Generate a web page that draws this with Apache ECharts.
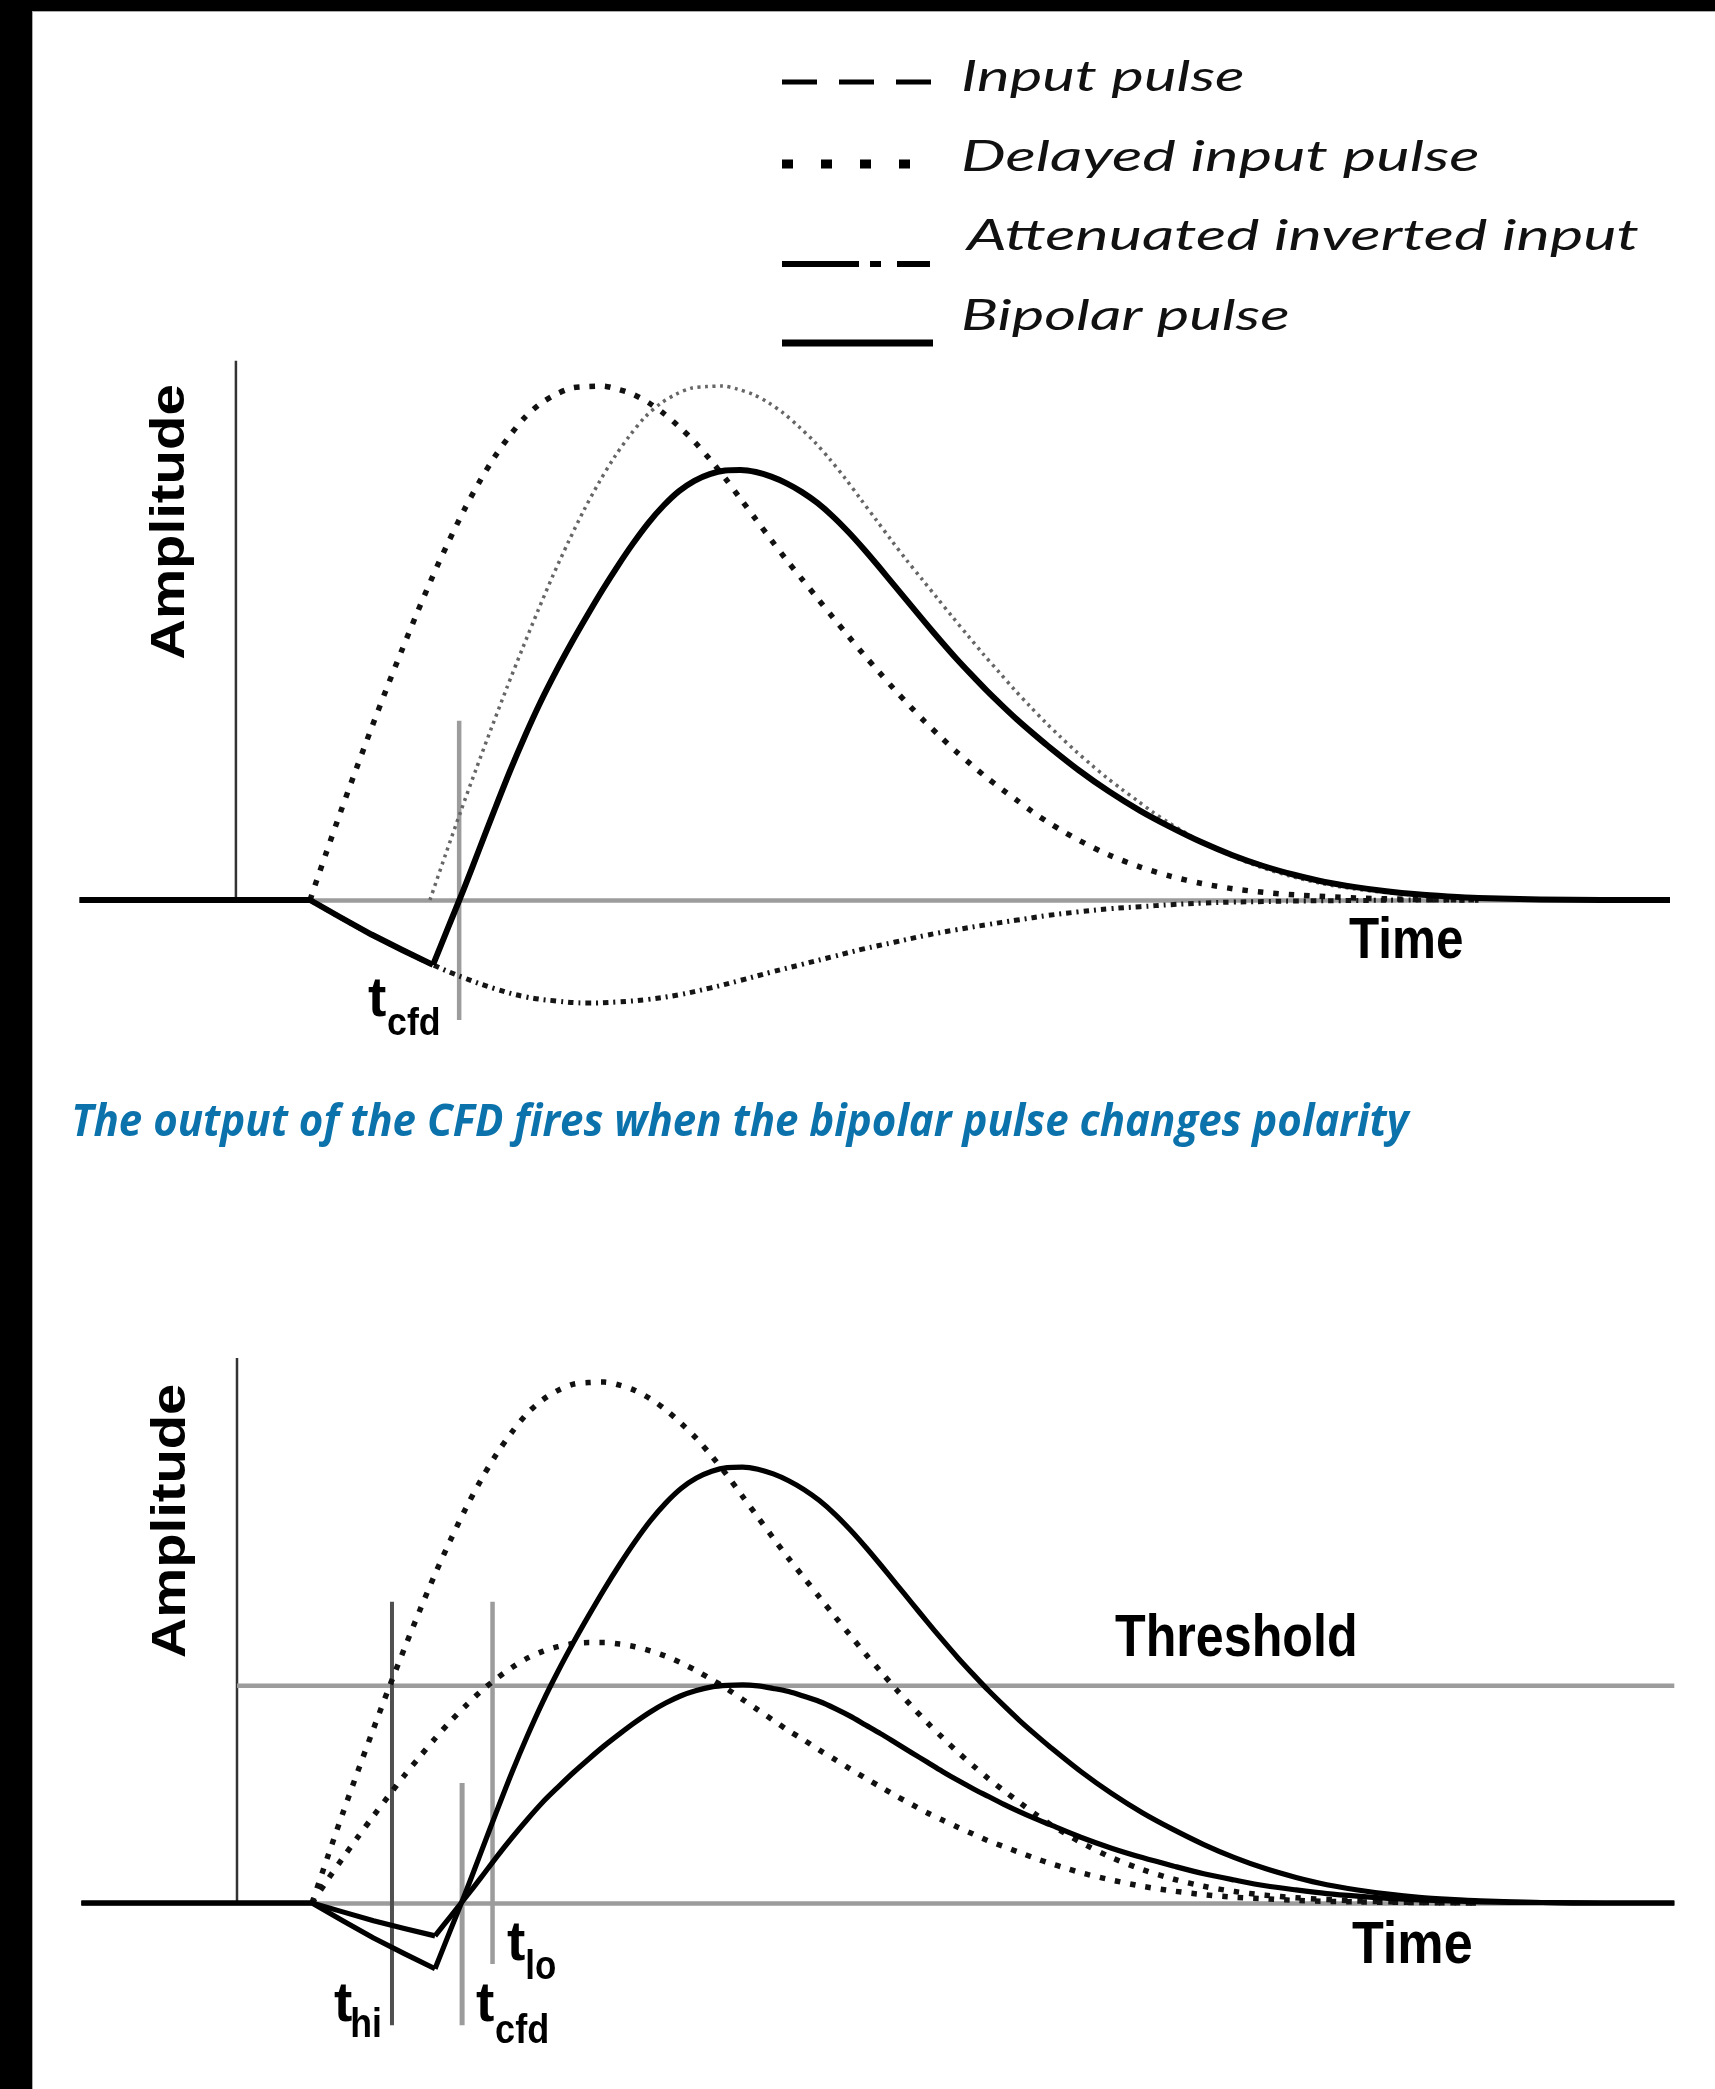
<!DOCTYPE html>
<html>
<head>
<meta charset="utf-8">
<script src="https://cdn.jsdelivr.net/npm/echarts@6/dist/echarts.min.js"></script>
<style>
html,body{margin:0;padding:0;background:#ffffff;}
#main{width:1715px;height:2089px;}
</style>
</head>
<body>
<div id="main"></div>
<script>
// ---------------- data (time in ns, amplitude relative to input pulse height) ----------------
const pulseTime = [0,0.5,1,1.5,2,2.5,3,3.5,4,4.5,5,5.5,6,6.5,7,7.5,8,8.5,9,9.5,10,10.5,11,11.5,12,12.5,13,13.5,14,14.5,15,15.5,16,16.5,17,17.5,18,18.5,19,19.5,20,20.5,21,21.5,22,22.5,23,23.5,24,24.5,25,26,27,28,29,30,31,32,34,36,38];
const inputPulse = [0,0.087,0.172,0.254,0.334,0.412,0.487,0.56,0.63,0.695,0.756,0.811,0.86,0.902,0.938,0.964,0.982,0.994,0.997,0.998,0.992,0.982,0.966,0.945,0.919,0.89,0.856,0.819,0.779,0.739,0.699,0.66,0.623,0.586,0.549,0.513,0.477,0.443,0.409,0.377,0.346,0.317,0.289,0.263,0.238,0.215,0.193,0.171,0.151,0.133,0.116,0.087,0.064,0.046,0.032,0.022,0.015,0.01,0.004,0.001,0];
const delayedTime = [3.9,4.4,4.9,5.4,5.9,6.4,6.9,7.4,7.9,8.4,8.9,9.4,9.9,10.4,10.9,11.4,11.9,12.4,12.9,13.4,13.9,14.4,14.9,15.4,15.9,16.4,16.9,17.4,17.9,18.4,18.9,19.4,19.9,20.4,20.9,21.4,21.9,22.4,22.9,23.4,23.9,24.4,24.9,25.4,25.9,26.4,26.9,27.4,27.9,28.4,28.9,29.9,30.9,31.9,32.9,33.9,34.9,35.9,37.9,39.9,41.9];
const delayedPulse = [0,0.087,0.172,0.254,0.334,0.412,0.487,0.56,0.63,0.695,0.756,0.811,0.86,0.902,0.938,0.964,0.982,0.994,0.997,0.998,0.992,0.982,0.966,0.945,0.919,0.89,0.856,0.819,0.779,0.739,0.699,0.66,0.623,0.586,0.549,0.513,0.477,0.443,0.409,0.377,0.346,0.317,0.289,0.263,0.238,0.215,0.193,0.171,0.151,0.133,0.116,0.087,0.064,0.046,0.032,0.022,0.015,0.01,0.004,0.001,0];
const attenuatedTime = [0,1,2,3,4,5,6,7,8,9,10,11,12,13,14,15,16,17,18,19,20,21,22,23,24,25,26,27,28,29,30,31,32,34,36,38];
const attenuatedInput = [0,-0.034,-0.067,-0.097,-0.126,-0.151,-0.172,-0.188,-0.196,-0.2,-0.198,-0.193,-0.184,-0.171,-0.156,-0.14,-0.125,-0.11,-0.095,-0.082,-0.069,-0.058,-0.048,-0.039,-0.03,-0.023,-0.017,-0.013,-0.009,-0.006,-0.004,-0.003,-0.002,-0.001,0,0];
const bipolarTime = [-7.5,0,1,2,3,4,4.5,5,5.5,6,6.5,7,7.5,8,8.5,9,9.5,10,10.5,11,11.5,12,12.5,13,13.5,14,14.5,15,15.5,16,16.5,17,17.5,18,18.5,19,19.5,20,20.5,21,21.5,22,22.5,23,23.5,24,25,26,27,28,29,30,31,32,33,34,35,36,37,38,40,42,44.3];
const bipolarPulse = [0,0,-0.034,-0.067,-0.097,-0.126,-0.052,0.021,0.098,0.175,0.25,0.32,0.385,0.444,0.499,0.551,0.601,0.648,0.692,0.732,0.766,0.794,0.814,0.827,0.834,0.835,0.831,0.822,0.809,0.792,0.771,0.745,0.715,0.682,0.647,0.611,0.575,0.539,0.504,0.47,0.438,0.407,0.378,0.35,0.324,0.299,0.252,0.21,0.173,0.141,0.112,0.087,0.066,0.049,0.035,0.025,0.017,0.011,0.007,0.004,0.001,0,0];
const smallInputPulse = [0,0.044,0.086,0.127,0.167,0.206,0.244,0.28,0.315,0.348,0.378,0.406,0.43,0.451,0.469,0.482,0.491,0.497,0.499,0.499,0.496,0.491,0.483,0.473,0.46,0.445,0.428,0.41,0.39,0.37,0.35,0.33,0.312,0.293,0.275,0.257,0.239,0.222,0.205,0.189,0.173,0.159,0.145,0.132,0.119,0.108,0.097,0.086,0.076,0.067,0.058,0.044,0.032,0.023,0.016,0.011,0.008,0.005,0.002,0.001,0];
const smallBipolarPulse = [0,0,-0.017,-0.034,-0.049,-0.063,-0.026,0.011,0.049,0.088,0.125,0.16,0.193,0.222,0.25,0.276,0.301,0.324,0.346,0.366,0.383,0.397,0.407,0.414,0.417,0.418,0.416,0.411,0.405,0.396,0.386,0.373,0.358,0.341,0.324,0.306,0.288,0.27,0.252,0.235,0.219,0.204,0.189,0.175,0.162,0.15,0.126,0.105,0.087,0.071,0.056,0.044,0.033,0.025,0.018,0.013,0.009,0.006,0.004,0.002,0.001,0,0];
const bipolarKinkIndex = 5;            // bipolar minimum (start of delayed pulse)

// reference lines: [time, amplitude from, amplitude to]
const topAmplitudeAxis = [-2.41, 0, 1.047];
const topCfd = [4.85, -0.233, 0.348];
const bottomAmplitudeAxis = [-2.44, 0, 1.044];
const thresholdLine = [-2.44, 44.3, 0.416];   // [time from, time to, level]
const bottomHi = [2.6, -0.234, 0.577];
const bottomCfd = [4.88, -0.234, 0.23];
const bottomLo = [5.87, -0.117, 0.577];

const legendNames = ['Input pulse', 'Delayed input pulse', 'Attenuated inverted input', 'Bipolar pulse'];
const captionText = 'The output of the CFD fires when the bipolar pulse changes polarity';
const axisTitles = ['Amplitude', 'Time', 'Threshold'];

// ---------------- helpers ----------------
const pairs = (ts, vs) => ts.map((t, i) => [t, vs[i]]);
const mctx = document.createElement('canvas').getContext('2d');
function measure(font, text) { mctx.font = font; return mctx.measureText(text); }

// text whose ink starts at inkLeft, baseline at baseline, ink width targetW
function label(text, font, inkLeft, baseline, targetW, color) {
  const m = measure(font, text);
  const asc = m.fontBoundingBoxAscent, desc = m.fontBoundingBoxDescent;
  const mid = (asc !== undefined) ? (asc - desc) / 2 : 0.35 * parseFloat(font.match(/(\d+(\.\d+)?)px/)[1]);
  const ink = m.actualBoundingBoxRight + m.actualBoundingBoxLeft;
  const sx = targetW ? targetW / ink : 1;
  return {
    type: 'text', x: inkLeft + m.actualBoundingBoxLeft * sx, y: baseline - mid, scaleX: sx, silent: true,
    style: { text: text, font: font, fill: color || '#000', textAlign: 'left', textVerticalAlign: 'middle', align: 'left', verticalAlign: 'middle' }
  };
}
function vertLabel(text, font, cx, cy, targetLen) {
  const m = measure(font, text);
  const ink = m.actualBoundingBoxRight + m.actualBoundingBoxLeft;
  const sx = targetLen / ink;
  return {
    type: 'text', x: cx, y: cy, rotation: Math.PI / 2, scaleX: sx, silent: true,
    style: { text: text, font: font, fill: '#000', textAlign: 'center', textVerticalAlign: 'middle', align: 'center', verticalAlign: 'middle' }
  };
}
function curve(idx, name, data, lineStyle, smooth, z) {
  return { type: 'line', name: name, xAxisIndex: idx, yAxisIndex: idx, data: data, smooth: smooth,
    symbol: 'none', silent: true, animation: false, z: z || 3, lineStyle: Object.assign({ cap: 'butt', join: 'round' }, lineStyle) };
}
function segment(idx, p0, p1, color, width) {
  return { type: 'line', xAxisIndex: idx, yAxisIndex: idx, data: [p0, p1], symbol: 'none', silent: true,
    animation: false, z: 1, lineStyle: { color: color, width: width, cap: 'butt' } };
}

const SMOOTH = 0.3;
const dotted = { color: '#111', width: 5.5, type: [5.5, 10] };
const fine = { color: '#666', width: 3.5, type: [3, 4.5] };
const dashDot = { color: '#151515', width: 5, type: [5.5, 5, 2, 5] };
const solid = { color: '#000', width: 6, type: 'solid' };
const solidB = { color: '#000', width: 5.2, type: 'solid' };

const bip = pairs(bipolarTime, bipolarPulse);
const bipSmall = pairs(bipolarTime, smallBipolarPulse);

const series = [
  // top chart
  segment(0, [topAmplitudeAxis[0], topAmplitudeAxis[1]], [topAmplitudeAxis[0], topAmplitudeAxis[2]], '#333', 2.5),
  segment(0, [topCfd[0], topCfd[1]], [topCfd[0], topCfd[2]], '#9c9c9c', 4.5),
  curve(0, legendNames[2], pairs(attenuatedTime, attenuatedInput), dashDot, 0.4),
  curve(0, legendNames[1], pairs(delayedTime, delayedPulse), fine, SMOOTH),
  curve(0, legendNames[0], pairs(pulseTime, inputPulse), dotted, SMOOTH),
  curve(0, legendNames[3], bip.slice(0, bipolarKinkIndex + 1), solid, false, 4),
  curve(0, legendNames[3], bip.slice(bipolarKinkIndex), solid, SMOOTH, 4),
  // bottom chart
  segment(1, [bottomAmplitudeAxis[0], bottomAmplitudeAxis[1]], [bottomAmplitudeAxis[0], bottomAmplitudeAxis[2]], '#333', 2.5),
  segment(1, [thresholdLine[0], thresholdLine[2]], [thresholdLine[1], thresholdLine[2]], '#9c9c9c', 4.5),
  segment(1, [bottomHi[0], bottomHi[1]], [bottomHi[0], bottomHi[2]], '#505050', 4),
  segment(1, [bottomCfd[0], bottomCfd[1]], [bottomCfd[0], bottomCfd[2]], '#9c9c9c', 5),
  segment(1, [bottomLo[0], bottomLo[1]], [bottomLo[0], bottomLo[2]], '#9c9c9c', 4.5),
  curve(1, 'Input pulse', pairs(pulseTime, inputPulse), dotted, SMOOTH),
  curve(1, 'Input pulse (small)', pairs(pulseTime, smallInputPulse), dotted, SMOOTH),
  curve(1, 'Bipolar pulse', bip.slice(0, bipolarKinkIndex + 1), solidB, false, 4),
  curve(1, 'Bipolar pulse', bip.slice(bipolarKinkIndex), solidB, SMOOTH, 4),
  curve(1, 'Bipolar pulse (small)', bipSmall.slice(0, bipolarKinkIndex + 1), solidB, false, 4),
  curve(1, 'Bipolar pulse (small)', bipSmall.slice(bipolarKinkIndex), solidB, SMOOTH, 4)
];

const axisBase = (idx, min, max) => ({
  type: 'value', gridIndex: idx, min: min, max: max,
  axisLine: { show: true, onZero: true, lineStyle: { color: '#9c9c9c', width: 4.5, cap: 'butt' } },
  axisTick: { show: false }, axisLabel: { show: false }, splitLine: { show: false }
});
const yBase = (idx) => ({ type: 'value', gridIndex: idx, min: -0.3, max: 1.1, show: false, splitLine: { show: false } });

// ---------------- text & legend graphics ----------------
const legendFont = "italic 400 42px Lato";
const boldFont = (fs) => "normal 700 " + fs + "px 'Liberation Sans', Arial, sans-serif";
const graphics = [
  { type: 'rect', shape: { x: 0, y: 0, width: 32, height: 2089 }, style: { fill: '#000' }, silent: true },
  { type: 'rect', shape: { x: 0, y: 0, width: 1715, height: 11 }, style: { fill: '#000' }, silent: true },
  { type: 'rect', shape: { x: 32, y: 11, width: 1683, height: 1 }, style: { fill: '#aaa' }, silent: true },
  { type: 'rect', shape: { x: 32, y: 11, width: 1, height: 2078 }, style: { fill: '#aaa' }, silent: true },
  // legend samples
  { type: 'line', shape: { x1: 782, y1: 82, x2: 931, y2: 82 }, style: { stroke: '#000', lineWidth: 5, lineDash: [35, 22] }, silent: true },
  { type: 'line', shape: { x1: 782, y1: 164, x2: 911, y2: 164 }, style: { stroke: '#000', lineWidth: 9, lineDash: [11, 28] }, silent: true },
  { type: 'line', shape: { x1: 782, y1: 264, x2: 930, y2: 264 }, style: { stroke: '#000', lineWidth: 6, lineDash: [77, 11, 11, 16, 33, 100] }, silent: true },
  { type: 'line', shape: { x1: 782, y1: 343, x2: 933, y2: 343 }, style: { stroke: '#000', lineWidth: 7 }, silent: true },
  label(legendNames[0], legendFont, 964, 93, 279, '#111'),
  label(legendNames[1], legendFont, 964, 173, 514, '#111'),
  label(legendNames[2], legendFont, 964, 252, 675, '#111'),
  label(legendNames[3], legendFont, 964, 332, 324, '#111'),
  // caption
  label(captionText, "italic 700 45px 'Open Sans', sans-serif", 74, 1141, 1337, '#0b72ab'),
  // axis titles
  vertLabel(axisTitles[0], boldFont(49), 170, 522, 273),
  vertLabel(axisTitles[0], boldFont(49), 171, 1521, 272),
  label(axisTitles[1], boldFont(57), 1349, 962, 113),
  label(axisTitles[1], boldFont(59), 1352, 1967, 119),
  label(axisTitles[2], boldFont(59), 1115, 1660, 240),
  // time markers
  label('t', boldFont(55), 368, 1020, 0),
  label('cfd', boldFont(39), 388, 1038, 51),
  label('t', boldFont(55), 334, 2025, 0),
  label('hi', boldFont(40), 352, 2040, 28),
  label('t', boldFont(55), 476, 2025, 0),
  label('cfd', boldFont(40), 496, 2046, 51),
  label('t', boldFont(55), 507, 1964, 0),
  label('lo', boldFont(40), 527, 1982, 28)
];

const chart = echarts.init(document.getElementById('main'), null, { renderer: 'canvas' });
chart.setOption({
  backgroundColor: '#ffffff',
  animation: false,
  grid: [
    { left: 79.4, width: 1586.7, top: 333.5, height: 721, containLabel: false, outerBoundsMode: 'none' },
    { left: 81.4, width: 1592.9, top: 1328.8, height: 730.8, containLabel: false, outerBoundsMode: 'none' }
  ],
  xAxis: [axisBase(0, -7.5, 44.1), axisBase(1, -7.5, 44.3)],
  yAxis: [yBase(0), yBase(1)],
  series: series,
  graphic: { elements: graphics }
});
</script>
</body>
</html>
